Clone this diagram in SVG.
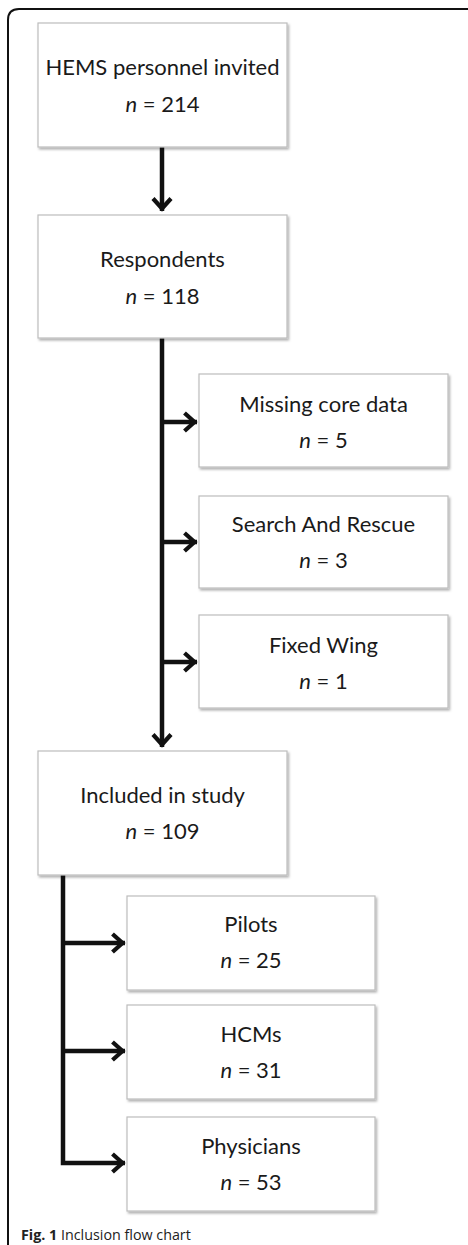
<svg xmlns="http://www.w3.org/2000/svg" width="468" height="1245" viewBox="0 0 468 1245">
<style>
.box{fill:#fff;stroke:#bdbdbd;stroke-width:1.2;filter:url(#sh)}
.t{font-family:Lato,"Open Sans","Liberation Sans",sans-serif;font-size:22px;fill:#1a1a1a;text-anchor:middle}
.i{font-style:italic}
.ln{fill:none;stroke:#111;stroke-width:4.5}
.cap{font-family:"Open Sans","Liberation Sans",sans-serif;font-size:14.3px;fill:#222}
</style>
<defs>
<filter id="sh" x="-10%" y="-10%" width="125%" height="125%">
<feDropShadow dx="1.5" dy="2" stdDeviation="1.2" flood-color="#000" flood-opacity="0.3"/>
</filter>
<marker id="ah" markerUnits="userSpaceOnUse" markerWidth="30" markerHeight="30" refX="0" refY="0" orient="auto" overflow="visible">
<path d="M-12.5,-9 L-2.5,0 L-12.5,9" fill="none" stroke="#111" stroke-width="4.2"/>
</marker>
</defs>
<path d="M8,1245 V20 Q8,9 19,9 H468" fill="none" stroke="#111" stroke-width="2"/>
<g id="connectors">
<path class="ln" d="M162,147 V211" marker-end="url(#ah)"/>
<path class="ln" d="M162,338 V747" marker-end="url(#ah)"/>
<path class="ln" d="M162,422 H197" marker-end="url(#ah)"/>
<path class="ln" d="M162,542 H197" marker-end="url(#ah)"/>
<path class="ln" d="M162,662 H197" marker-end="url(#ah)"/>
<path class="ln" d="M63,875 V1163 H125" marker-end="url(#ah)"/>
<path class="ln" d="M63,943 H125" marker-end="url(#ah)"/>
<path class="ln" d="M63,1051 H125" marker-end="url(#ah)"/>
</g>
<g id="invited">
<rect class="box" x="38" y="23" width="249" height="124"/>
<text class="t" x="162.5" y="75">HEMS personnel invited</text>
<text class="t" x="162.5" y="112"><tspan class="i">n</tspan> = 214</text>
</g>
<g id="respondents">
<rect class="box" x="38" y="215" width="249" height="123"/>
<text class="t" x="162.5" y="267">Respondents</text>
<text class="t" x="162.5" y="304"><tspan class="i">n</tspan> = 118</text>
</g>
<g id="missing">
<rect class="box" x="199" y="374" width="249" height="93"/>
<text class="t" x="323.5" y="412">Missing core data</text>
<text class="t" x="323.5" y="448"><tspan class="i">n</tspan> = 5</text>
</g>
<g id="sar">
<rect class="box" x="199" y="496" width="249" height="92"/>
<text class="t" x="323.5" y="532">Search And Rescue</text>
<text class="t" x="323.5" y="568"><tspan class="i">n</tspan> = 3</text>
</g>
<g id="fixedwing">
<rect class="box" x="199" y="615" width="249" height="93"/>
<text class="t" x="323.5" y="653">Fixed Wing</text>
<text class="t" x="323.5" y="689"><tspan class="i">n</tspan> = 1</text>
</g>
<g id="included">
<rect class="box" x="38" y="751" width="249" height="124"/>
<text class="t" x="162.5" y="803">Included in study</text>
<text class="t" x="162.5" y="839"><tspan class="i">n</tspan> = 109</text>
</g>
<g id="pilots">
<rect class="box" x="127" y="896" width="248" height="94"/>
<text class="t" x="251" y="932">Pilots</text>
<text class="t" x="251" y="968"><tspan class="i">n</tspan> = 25</text>
</g>
<g id="hcms">
<rect class="box" x="127" y="1005" width="248" height="94"/>
<text class="t" x="251" y="1042">HCMs</text>
<text class="t" x="251" y="1078"><tspan class="i">n</tspan> = 31</text>
</g>
<g id="physicians">
<rect class="box" x="127" y="1117" width="248" height="94"/>
<text class="t" x="251" y="1154">Physicians</text>
<text class="t" x="251" y="1190"><tspan class="i">n</tspan> = 53</text>
</g>
<text class="cap" x="21" y="1240"><tspan font-weight="bold">Fig. 1</tspan> Inclusion flow chart</text>
</svg>
